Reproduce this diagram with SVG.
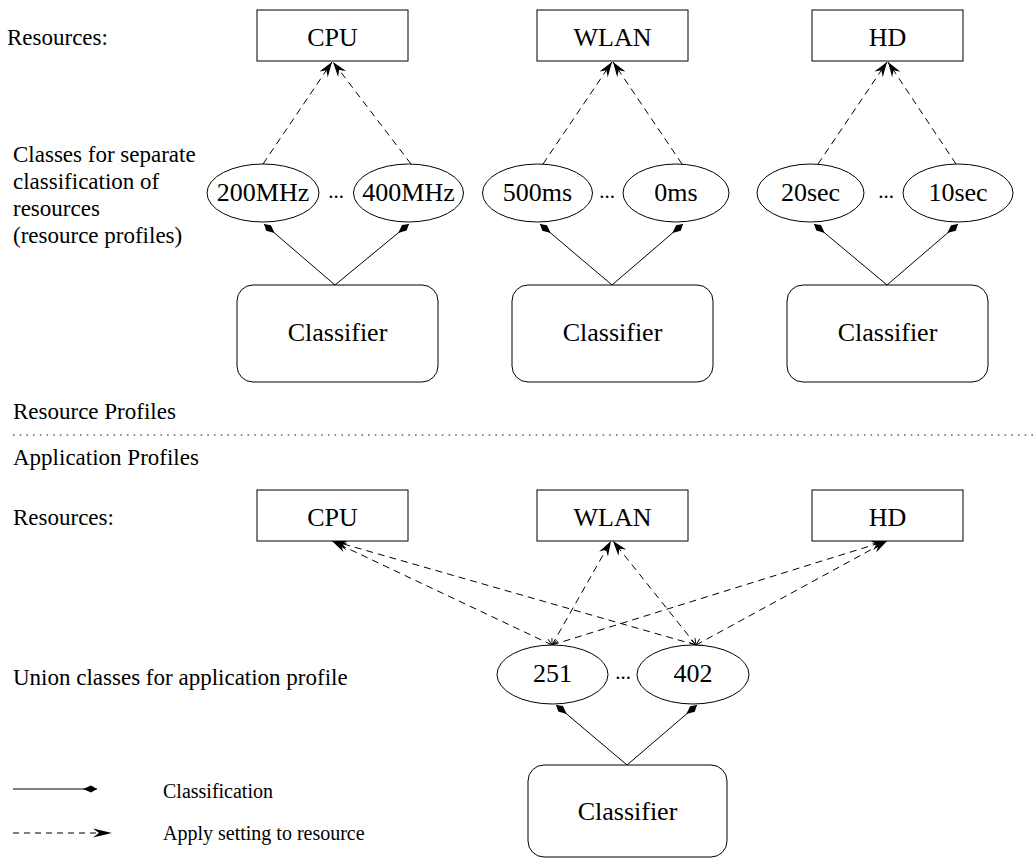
<svg xmlns="http://www.w3.org/2000/svg" width="1033" height="859" viewBox="0 0 1033 859">
<style>
  .box { fill: #fff; stroke: #000; stroke-width: 1; }
  .ell { fill: #fff; stroke: #000; stroke-width: 1; }
  text { font-family: "Liberation Serif", "Times New Roman", serif; fill: #000; }
  .nt { font-size: 26px; text-anchor: middle; }
  .lbl { font-size: 23px; }
  .leg { font-size: 20px; }
  .dots { font-size: 21px; text-anchor: middle; }
  .dash { fill: none; stroke: #000; stroke-width: 1; stroke-dasharray: 7 5; marker-end: url(#stealth); }
  .dash2 { fill: none; stroke: #000; stroke-width: 1; stroke-dasharray: 7 5; marker-end: url(#stealth); marker-start: url(#openv); }
  .solid { fill: none; stroke: #000; stroke-width: 1; marker-end: url(#diamond); }
</style>
<defs>
  <marker id="stealth" viewBox="-17 -6 18 12" markerWidth="18" markerHeight="12" refX="0" refY="0" orient="auto" markerUnits="userSpaceOnUse">
    <path d="M0,0 L-15,-5 L-10,0 L-15,5 Z" fill="#000"/>
  </marker>
  <marker id="legstealth" viewBox="-21 -6 22 12" markerWidth="22" markerHeight="12" refX="0" refY="0" orient="auto" markerUnits="userSpaceOnUse">
    <path d="M0,0 L-19,-4.5 L-13,0 L-19,4.5 Z" fill="#000"/>
  </marker>
  <marker id="diamond" viewBox="-15 -5 16 10" markerWidth="16" markerHeight="10" refX="0" refY="0" orient="auto" markerUnits="userSpaceOnUse">
    <path d="M0,0 L-6,-3.6 L-14,0 L-6,3.6 Z" fill="#000"/>
  </marker>
  <marker id="openv" viewBox="-8 -5 9 10" markerWidth="9" markerHeight="10" refX="0" refY="0" orient="auto-start-reverse" markerUnits="userSpaceOnUse">
    <path d="M-6,-3.5 L0,0 L-6,3.5" fill="none" stroke="#000" stroke-width="0.9"/>
  </marker>
</defs>

<!-- Labels -->
<g id="labels">
  <text class="lbl" x="7" y="45">Resources:</text>
  <text class="lbl" x="13" y="162">Classes for separate</text>
  <text class="lbl" x="13" y="189">classification of</text>
  <text class="lbl" x="13" y="216">resources</text>
  <text class="lbl" x="13" y="243">(resource profiles)</text>
  <text class="lbl" x="13" y="419">Resource Profiles</text>
  <text class="lbl" x="13" y="465">Application Profiles</text>
  <text class="lbl" x="13" y="525">Resources:</text>
  <text class="lbl" x="13" y="685">Union classes for application profile</text>
</g>

<line id="separator" x1="13" y1="435" x2="1033" y2="435" stroke="#666" stroke-width="1.3" stroke-dasharray="1.6 5.1"/>

<!-- Connectors -->
<g id="connectors">
  <path class="dash" d="M263,164 L332,62"/>
  <path class="dash" d="M411,164 L333,62"/>
  <path class="dash" d="M543,164 L612,62"/>
  <path class="dash" d="M682,164 L613,62"/>
  <path class="dash" d="M818,164 L887,62"/>
  <path class="dash" d="M956,164 L888,62"/>

  <path class="solid" d="M335,285 L264,224"/>
  <path class="solid" d="M335,285 L409,224"/>
  <path class="solid" d="M612,285 L540,224"/>
  <path class="solid" d="M612,285 L683,224"/>
  <path class="solid" d="M887,285 L814,224"/>
  <path class="solid" d="M887,285 L958,224"/>

  <path class="dash2" d="M552,645 L332,541"/>
  <path class="dash2" d="M696,645 L333,541"/>
  <path class="dash2" d="M552,645 L611,541"/>
  <path class="dash2" d="M696,645 L613,541"/>
  <path class="dash2" d="M552,645 L886,541"/>
  <path class="dash2" d="M696,645 L887,541"/>

  <path class="solid" d="M627,765 L556,705"/>
  <path class="solid" d="M627,765 L697,705"/>
</g>

<!-- Top resources -->
<g id="cpu-top"><rect class="box" x="257" y="10" width="151" height="51"/><text class="nt" x="332.5" y="46">CPU</text></g>
<g id="wlan-top"><rect class="box" x="537" y="10" width="151" height="51"/><text class="nt" x="612.5" y="46">WLAN</text></g>
<g id="hd-top"><rect class="box" x="812" y="10" width="151" height="51"/><text class="nt" x="887.5" y="46">HD</text></g>

<!-- Top classes -->
<g id="c200mhz"><ellipse class="ell" cx="263" cy="193" rx="56" ry="29"/><text class="nt" x="263" y="201">200MHz</text></g>
<g id="dots1"><text class="dots" x="336" y="198">...</text></g>
<g id="c400mhz"><ellipse class="ell" cx="408.5" cy="193" rx="55" ry="29"/><text class="nt" x="408.5" y="201">400MHz</text></g>

<g id="c500ms"><ellipse class="ell" cx="537.5" cy="193" rx="55" ry="29"/><text class="nt" x="537.5" y="201">500ms</text></g>
<g id="dots2"><text class="dots" x="607" y="198">...</text></g>
<g id="c0ms"><ellipse class="ell" cx="676" cy="193" rx="53" ry="29"/><text class="nt" x="676" y="201">0ms</text></g>

<g id="c20sec"><ellipse class="ell" cx="810.5" cy="193" rx="53.5" ry="29"/><text class="nt" x="810.5" y="201">20sec</text></g>
<g id="dots3"><text class="dots" x="886" y="198">...</text></g>
<g id="c10sec"><ellipse class="ell" cx="958" cy="193" rx="55" ry="29"/><text class="nt" x="958" y="201">10sec</text></g>

<!-- Top classifiers -->
<g id="classifier1"><rect class="box" x="237" y="285" width="201" height="97" rx="16" ry="16"/><text class="nt" x="337.5" y="341">Classifier</text></g>
<g id="classifier2"><rect class="box" x="512" y="285" width="201" height="97" rx="16" ry="16"/><text class="nt" x="612.5" y="341">Classifier</text></g>
<g id="classifier3"><rect class="box" x="787" y="285" width="201" height="97" rx="16" ry="16"/><text class="nt" x="887.5" y="341">Classifier</text></g>

<!-- Bottom resources -->
<g id="cpu-bottom"><rect class="box" x="257" y="490" width="151" height="51"/><text class="nt" x="332.5" y="526">CPU</text></g>
<g id="wlan-bottom"><rect class="box" x="537" y="490" width="151" height="51"/><text class="nt" x="612.5" y="526">WLAN</text></g>
<g id="hd-bottom"><rect class="box" x="812" y="490" width="151" height="51"/><text class="nt" x="887.5" y="526">HD</text></g>

<!-- Union classes -->
<g id="u251"><ellipse class="ell" cx="552.5" cy="674.5" rx="55.5" ry="29.5"/><text class="nt" x="552.5" y="682">251</text></g>
<g id="dots4"><text class="dots" x="623" y="679">...</text></g>
<g id="u402"><ellipse class="ell" cx="693" cy="674.5" rx="56" ry="29.5"/><text class="nt" x="693" y="682">402</text></g>

<g id="classifier4"><rect class="box" x="528" y="765" width="199" height="92" rx="16" ry="16"/><text class="nt" x="627.5" y="820">Classifier</text></g>

<!-- Legend -->
<g id="legend">
  <line x1="13" y1="789" x2="97" y2="789" stroke="#000" stroke-width="1" marker-end="url(#diamond)"/>
  <text class="leg" x="163" y="798">Classification</text>
  <line x1="13" y1="833" x2="112" y2="833" stroke="#000" stroke-width="1" stroke-dasharray="6 5" marker-end="url(#legstealth)"/>
  <text class="leg" x="163" y="840">Apply setting to resource</text>
</g>
</svg>
